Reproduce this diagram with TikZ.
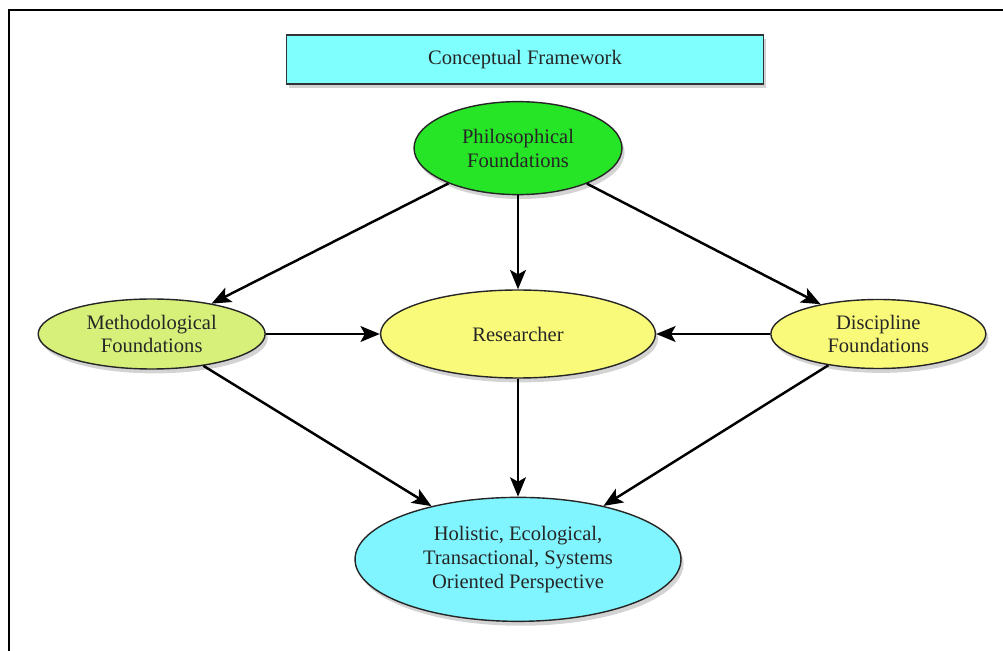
\documentclass[tikz,border=0pt]{standalone}
\usepackage{fontspec}
\setmainfont{Liberation Serif}
\usepackage{xcolor}
\usepackage{tikz}
\usetikzlibrary{shapes, arrows.meta, positioning, shadows}
\definecolor{titlecyan}{RGB}{128,255,255}
\definecolor{philgreen}{RGB}{38,228,38}
\definecolor{methlime}{RGB}{214,240,122}
\definecolor{paleyellow}{RGB}{250,250,122}
\definecolor{holcyan}{RGB}{128,245,255}
\tikzset{
	base_text/.style={font=\fontsize{11.7}{13.6}\selectfont, text=black!85, align=center},
	soft_shadow/.style={drop shadow={shadow xshift=1.5pt, shadow yshift=-2.5pt, opacity=0.35}},
	title_box/.style={rectangle, base_text, draw=black!80, fill=titlecyan, line width=1pt, minimum width=9.54cm, minimum height=0.98cm, soft_shadow},
	found/.style={ellipse, base_text, draw=black!85, line width=0.8pt, inner sep=0pt, soft_shadow},
	found_phil/.style={found, fill=philgreen, minimum width=4.16cm, minimum height=1.86cm},
	found_meth/.style={found, fill=methlime, minimum width=4.54cm, minimum height=1.40cm},
	found_disc/.style={found, fill=paleyellow, minimum width=4.30cm, minimum height=1.38cm},
	researcher/.style={found, fill=paleyellow, minimum width=5.50cm, minimum height=1.76cm},
	perspective/.style={found, fill=holcyan, minimum width=6.52cm, minimum height=2.48cm},
	main_arrow/.style={-{Stealth[length=11pt,width=9pt,inset=2.5pt]}, line width=1.4pt, draw=black},
	frame_line/.style={draw=black, line width=1.1pt}
}

\begin{document}
\begin{tikzpicture}[x=0.02cm, y=-0.02cm]
	\useasboundingbox (0,0) rectangle (1003,651);
	\coordinate (frame_tr) at (1010,10);
	\coordinate (frame_tl) at (9,10);
	\coordinate (frame_bl) at (9,660);
	\draw[frame_line] (frame_tr) -- (frame_tl) -- (frame_bl);

	\node[researcher] (res) at (518,334) {Researcher};
	\node[found_meth, left=2.28cm of res] (meth) {Methodological\\Foundations};
	\node[found_disc, right=2.28cm of res] (disc) {Discipline\\Foundations};
	\node[found_phil, above=1.88cm of res] (phil) {Philosophical\\Foundations};
	\node[perspective, below=2.36cm of res] (hol) {Holistic, Ecological,\\Transactional, Systems\\Oriented Perspective};
	\node[title_box, above=0.32cm of phil, xshift=0.14cm] (title) {Conceptual Framework};

	\draw[main_arrow] (phil) -- (meth);
	\draw[main_arrow] (phil) -- (res);
	\draw[main_arrow] (phil) -- (disc);
	\draw[main_arrow] (meth) -- (res);
	\draw[main_arrow] (disc) -- (res);
	\draw[main_arrow] (meth) -- (hol);
	\draw[main_arrow] (res) -- (hol);
	\draw[main_arrow] (disc) -- (hol);
\end{tikzpicture}
\end{document}
